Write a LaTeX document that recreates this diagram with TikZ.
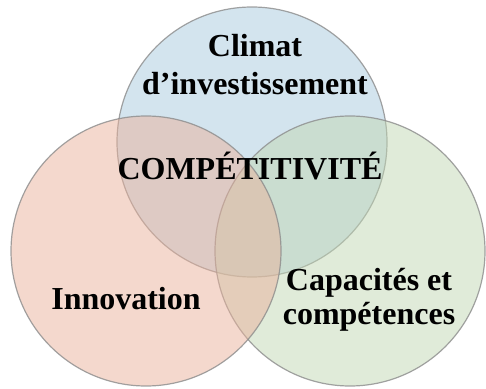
\documentclass[tikz,border=0pt]{standalone}
\usepackage{fontspec}
\setmainfont{Liberation Serif}
\definecolor{climatblue}{RGB}{167,201,221}
\definecolor{capgreen}{RGB}{193,215,179}
\definecolor{innovred}{RGB}{233,177,155}
\tikzset{
  venn/.style={draw=black!45,draw opacity=0.8,line width=1.2pt,fill opacity=0.5},
  vennlabel/.style={font=\fontsize{32}{38}\selectfont\bfseries,align=center,inner sep=0pt}
}
\begin{document}
\begin{tikzpicture}[x=1pt,y=1pt]
  \useasboundingbox (0,0) rectangle (486,388);
  \foreach \col/\x/\y in {climatblue/252/246,capgreen/350/137,innovred/146/137}
    \draw[venn,fill=\col] (\x,\y) circle[radius=135pt];

  \node[vennlabel] (climat) at (255,323) {Climat\\d’investissement};
  \node[vennlabel,anchor=base] (compet) at (250,208) {COMPÉTITIVITÉ};
  \node[vennlabel,anchor=base] (innov) at (126,79) {Innovation};
  \node[vennlabel,font=\fontsize{32}{34}\selectfont\bfseries] (capac) at (369,88) {Capacités et\\compétences};
\end{tikzpicture}
\end{document}
